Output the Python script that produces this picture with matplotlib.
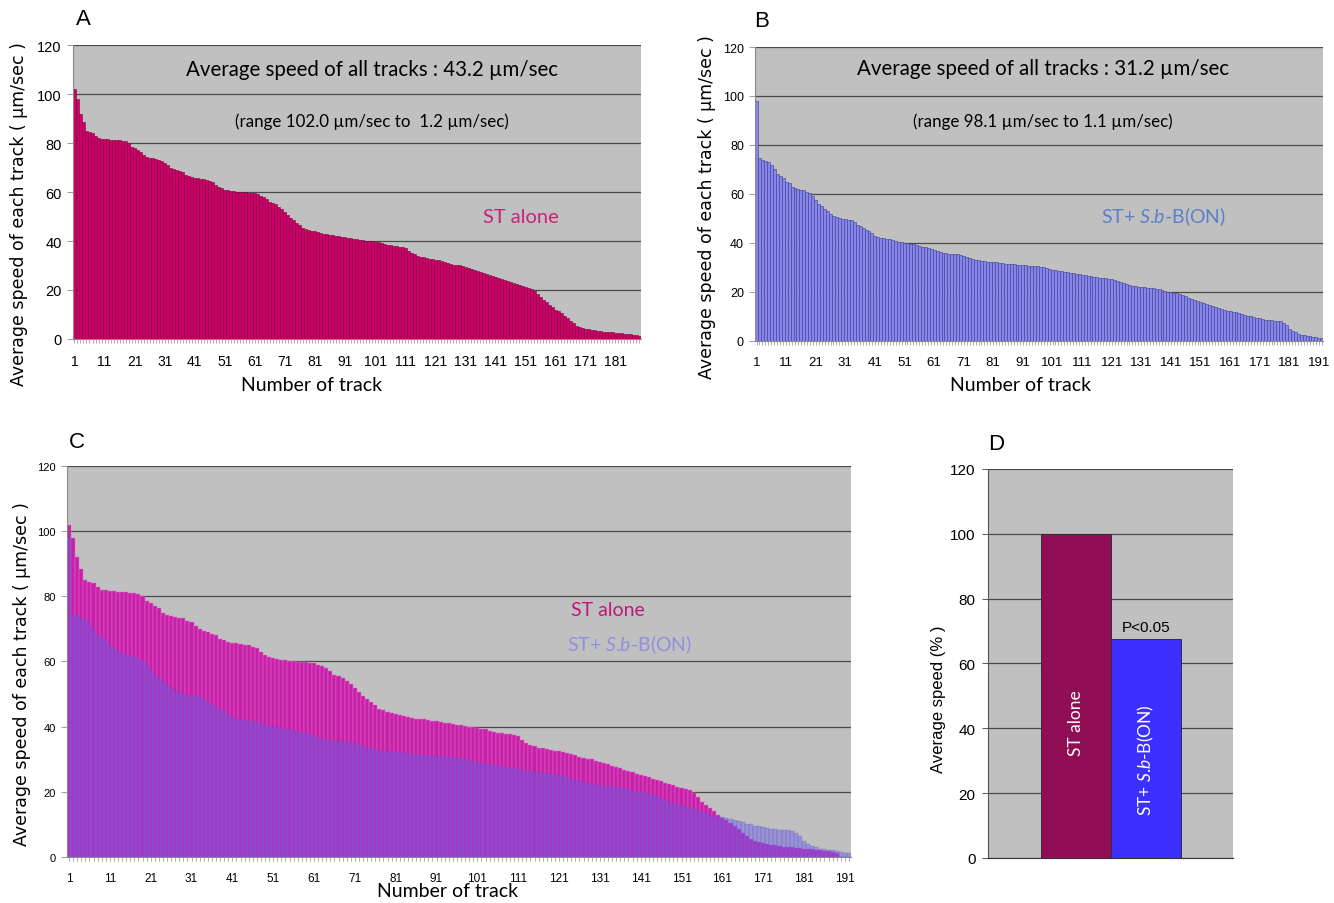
import numpy as np
import matplotlib
matplotlib.use("Agg")
import matplotlib.pyplot as plt

plt.rcParams['mathtext.fontset'] = 'custom'
plt.rcParams['mathtext.rm'] = 'Lato'
plt.rcParams['mathtext.it'] = 'Lato:italic'

# speed of each track, sorted high -> low (um/sec)
st_alone = [
    102.0, 98.0, 92.0, 88.5, 85.0, 84.5, 84.0, 83.0, 82.0, 81.8,
    81.6, 81.5, 81.4, 81.3, 81.2, 81.1, 81.0, 80.8, 80.0, 78.5,
    78.0, 77.0, 76.5, 75.0, 74.2, 74.0, 73.8, 73.5, 73.2, 72.5,
    72.0, 71.0, 70.0, 69.5, 69.0, 68.5, 68.0, 67.0, 66.5, 66.0,
    65.8, 65.6, 65.4, 65.2, 65.0, 64.5, 64.0, 63.0, 62.0, 61.5,
    61.0, 60.8, 60.6, 60.4, 60.2, 60.0, 59.9, 59.8, 59.7, 59.6,
    59.5, 59.0, 58.5, 58.0, 57.0, 56.0, 55.5, 55.0, 54.0, 53.0,
    52.0, 50.5, 49.5, 48.5, 47.5, 46.5, 45.5, 45.0, 44.5, 44.2,
    44.0, 43.5, 43.2, 43.0, 42.8, 42.5, 42.3, 42.2, 42.0, 41.8,
    41.6, 41.4, 41.2, 41.0, 40.8, 40.6, 40.4, 40.2, 40.0, 39.8,
    39.6, 39.4, 39.2, 38.8, 38.5, 38.2, 38.0, 37.8, 37.6, 37.4,
    37.2, 36.0, 35.0, 34.5, 34.0, 33.6, 33.3, 33.0, 32.8, 32.6,
    32.4, 32.2, 32.0, 31.6, 31.2, 30.8, 30.4, 30.2, 30.0, 29.6,
    29.2, 28.8, 28.4, 28.0, 27.6, 27.2, 26.8, 26.4, 26.0, 25.6,
    25.2, 24.8, 24.4, 24.0, 23.6, 23.2, 22.8, 22.4, 22.0, 21.6,
    21.2, 20.8, 20.5, 19.5, 18.5, 17.0, 16.0, 15.0, 14.0, 13.0,
    12.0, 11.5, 10.5, 9.5, 8.5, 7.5, 6.5, 5.5, 5.0, 4.5,
    4.2, 4.0, 3.8, 3.6, 3.4, 3.2, 3.0, 3.0, 2.8, 2.7,
    2.6, 2.5, 2.4, 2.2, 2.0, 1.9, 1.8, 1.5, 1.2,
]

st_sb = [
    98.1, 74.5, 74.0, 73.5, 73.0, 72.0, 70.0, 68.0, 67.5, 66.5,
    65.0, 64.5, 63.0, 62.5, 62.0, 61.8, 61.5, 61.0, 60.5, 59.0,
    57.5, 56.0, 55.0, 54.0, 53.0, 52.0, 51.0, 50.5, 50.0, 49.8,
    49.6, 49.5, 49.2, 48.5, 47.5, 47.0, 46.0, 45.5, 45.0, 44.0,
    43.0, 42.5, 42.2, 42.0, 41.8, 41.6, 41.4, 41.0, 40.6, 40.2,
    40.0, 39.8, 39.6, 39.4, 39.2, 38.6, 38.4, 38.2, 38.0, 37.6,
    37.0, 36.6, 36.2, 36.0, 35.8, 35.7, 35.6, 35.5, 35.4, 35.2,
    34.8, 34.4, 34.0, 33.6, 33.2, 33.0, 32.8, 32.6, 32.4, 32.3,
    32.2, 32.1, 32.0, 31.8, 31.6, 31.5, 31.4, 31.3, 31.2, 31.1,
    31.0, 30.9, 30.8, 30.7, 30.6, 30.5, 30.4, 30.2, 29.8, 29.4,
    29.0, 28.8, 28.6, 28.4, 28.2, 28.0, 27.8, 27.6, 27.4, 27.2,
    27.0, 26.8, 26.6, 26.4, 26.2, 26.0, 25.8, 25.7, 25.6, 25.5,
    25.2, 24.8, 24.4, 24.0, 23.6, 23.4, 23.0, 22.6, 22.4, 22.2,
    22.0, 21.9, 21.8, 21.7, 21.6, 21.4, 21.2, 21.0, 20.5, 20.0,
    19.8, 19.6, 19.4, 19.0, 18.6, 18.2, 17.6, 17.0, 16.6, 16.2,
    16.0, 15.6, 15.0, 14.6, 14.2, 14.0, 13.5, 13.0, 12.6, 12.4,
    12.2, 12.0, 11.8, 11.4, 11.0, 10.6, 10.2, 10.0, 9.6, 9.4,
    9.2, 8.8, 8.6, 8.5, 8.4, 8.3, 8.2, 8.0, 7.5, 6.5,
    5.0, 4.0, 3.5, 3.0, 2.6, 2.4, 2.2, 2.0, 1.8, 1.6,
    1.3, 1.1,
]

# panel D: relative average speed (%)
groups_d = ['ST alone', 'ST+ $\\mathit{S}$.$\\mathit{b}$-B(ON)']
pct_d = [100.0, 67.7]

title_a = 'Average speed of all tracks : 43.2 \u00b5m/sec'
range_a = '(range 102.0 \u00b5m/sec to  1.2 \u00b5m/sec)'
title_b = 'Average speed of all tracks : 31.2 \u00b5m/sec'
range_b = '(range 98.1 \u00b5m/sec to 1.1 \u00b5m/sec)'
ylab = 'Average speed of each track ( \u00b5m/sec )'
lab_st = 'ST alone'
lab_sb = 'ST+ $\\mathit{S}$.$\\mathit{b}$-B(ON)'

GRAY = '#c0c0c0'
GRID = '#4a4a4a'


def style_track_axes(ax, n, tick_font, tick_size, ytick_size):
    ax.set_facecolor(GRAY)
    ax.set_xlim(0.5, n + 0.5)
    ax.set_ylim(0, 120)
    ax.set_yticks(np.arange(0, 121, 20))
    ax.yaxis.grid(True, color=GRID, lw=0.9)
    ax.set_axisbelow(True)
    ax.set_xticks(np.arange(1, n + 1, 10))
    ax.set_xticks(np.arange(1, n + 1), minor=True)
    for s in ['top', 'right']:
        ax.spines[s].set_visible(False)
    for s in ['left', 'bottom']:
        ax.spines[s].set_color('#8a8a8a')
        ax.spines[s].set_linewidth(0.8)
    ax.tick_params(axis='x', which='both', length=3, width=0.5, color='#8a8a8a', pad=8)
    ax.tick_params(axis='y', length=4, width=0.6, color='#8a8a8a', pad=4)
    for lab in ax.get_xticklabels():
        lab.set_family(tick_font)
        lab.set_fontsize(tick_size)
    for lab in ax.get_yticklabels():
        lab.set_family(tick_font)
        lab.set_fontsize(ytick_size)


fig = plt.figure(figsize=(13.34, 9.04), dpi=100)

# ---------------- A ----------------
axA = fig.add_axes([0.0547, 0.6239, 0.4258, 0.3252])
xa = np.arange(1, len(st_alone) + 1)
axA.bar(xa, st_alone, width=1.0, color='#cc0066', edgecolor='#85003f', linewidth=0.4)
style_track_axes(axA, len(st_alone), 'Liberation Sans', 10, 10.5)
axA.text(0.526, 0.92, title_a, transform=axA.transAxes, ha='center', va='center',
         family='Lato', fontsize=14.8)
axA.text(0.527, 0.741, range_a, transform=axA.transAxes, ha='center', va='center',
         family='Lato', fontsize=12.2)
axA.text(0.789, 0.418, lab_st, transform=axA.transAxes, ha='center', va='center',
         family='Lato', fontsize=14.5, color='#c8237a')
axA.set_ylabel(ylab, family='DejaVu Sans', fontsize=12.5)
axA.yaxis.set_label_coords(-0.08, 0.43)
axA.set_xlabel('Number of track', family='Lato', fontsize=14)
axA.xaxis.set_label_coords(0.42, -0.125)

# ---------------- B ----------------
axB = fig.add_axes([0.566, 0.6217, 0.426, 0.3252])
xb = np.arange(1, len(st_sb) + 1)
axB.bar(xb, st_sb, width=1.0, color='#8585ea', edgecolor='#3d3d96', linewidth=0.4)
style_track_axes(axB, len(st_sb), 'Liberation Sans', 9.5, 9)
axB.text(0.507, 0.93, title_b, transform=axB.transAxes, ha='center', va='center',
         family='Lato', fontsize=14.8)
axB.text(0.507, 0.75, range_b, transform=axB.transAxes, ha='center', va='center',
         family='Lato', fontsize=12.2)
axB.text(0.718, 0.425, lab_sb, transform=axB.transAxes, ha='center', va='center',
         family='Lato', fontsize=14, color='#5b7fc8')
axB.set_ylabel(ylab, family='DejaVu Sans', fontsize=12.5)
axB.yaxis.set_label_coords(-0.069, 0.46)
axB.set_xlabel('Number of track', family='Lato', fontsize=14)
axB.xaxis.set_label_coords(0.467, -0.118)

# ---------------- C ----------------
axC = fig.add_axes([0.0502, 0.0509, 0.5877, 0.4325])
nC = max(len(st_alone), len(st_sb))
axC.bar(xa, st_alone, width=1.0, color='#c820a8', edgecolor='#e070c8', linewidth=0.35)
axC.bar(xb, st_sb, width=1.0, color='#6a5af0', alpha=0.45, edgecolor='#5050b0', linewidth=0.3)
style_track_axes(axC, nC, ['Liberation Sans Narrow', 'Liberation Sans'], 8.5, 8)
axC.text(0.69, 0.632, lab_st, transform=axC.transAxes, ha='center', va='center',
         family='Lato', fontsize=14, color='#c0177a')
axC.text(0.718, 0.545, lab_sb, transform=axC.transAxes, ha='center', va='center',
         family='Lato', fontsize=14, color='#9090e0')
axC.set_ylabel(ylab, family='DejaVu Sans', fontsize=12.5)
axC.yaxis.set_label_coords(-0.046, 0.47)
axC.set_xlabel('Number of track', family='Lato', fontsize=14)
axC.xaxis.set_label_coords(0.486, -0.064)

# ---------------- D ----------------
axD = fig.add_axes([0.7406, 0.0498, 0.1837, 0.4303])
axD.set_facecolor(GRAY)
xd = np.arange(len(pct_d))
axD.bar(xd, pct_d, width=1.0, color=['#900e55', '#3b30ff'], edgecolor='#303030', linewidth=0.7)
axD.set_xlim(-1.257, 2.243)
axD.set_ylim(0, 120)
axD.set_yticks(np.arange(0, 121, 20))
axD.yaxis.grid(True, color=GRID, lw=0.9)
axD.set_axisbelow(True)
axD.set_xticks([])
for s in ['top', 'right']:
    axD.spines[s].set_visible(False)
axD.spines['left'].set_color('#555555')
axD.spines['bottom'].set_color('#333333')
axD.tick_params(axis='y', length=4, width=0.7, color='#555555', pad=5)
for lab in axD.get_yticklabels():
    lab.set_family('Liberation Sans')
    lab.set_fontsize(11)
axD.set_ylabel('Average speed (% )', family='Liberation Sans', fontsize=12)
axD.yaxis.set_label_coords(-0.171, 0.41)
axD.text(xd[1], pct_d[1] + 1.5, 'P<0.05', ha='center', va='bottom',
         family='Liberation Sans', fontsize=11)
axD.text(xd[0], 42, groups_d[0], rotation=90, ha='center', va='center',
         family='Lato', fontsize=12.5, color='white')
axD.text(xd[1], 30.5, groups_d[1], rotation=90, ha='center', va='center',
         family='Lato', fontsize=12.5, color='white')

# panel letters
for lt, px, py in [('A', 0.0622, 0.978), ('B', 0.571, 0.976), ('C', 0.058, 0.51), ('D', 0.747, 0.508)]:
    fig.text(px, py, lt, family='Liberation Sans', fontsize=16, ha='center', va='center')

fig.savefig('out.png', dpi=100)
